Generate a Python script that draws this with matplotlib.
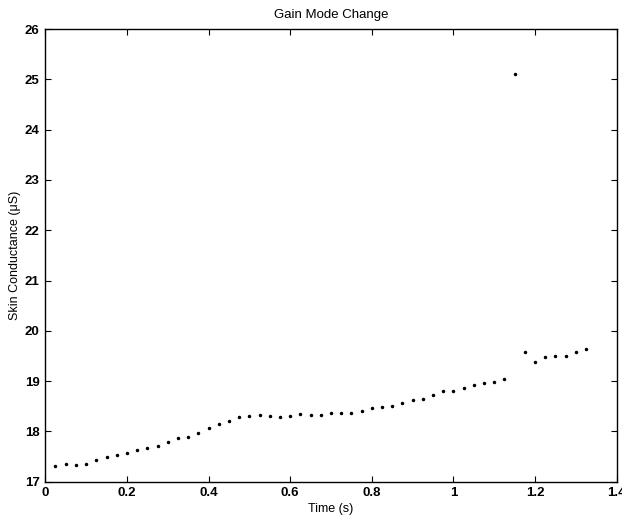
import numpy as np
import matplotlib
matplotlib.use('Agg')
import matplotlib.pyplot as plt
from matplotlib.ticker import FuncFormatter

# sample times (s) and skin conductance readings (uS)
timeArr = [0.025 * k for k in range(1, 54)]
scDatArr = [17.32, 17.35, 17.34, 17.36, 17.44, 17.49, 17.53, 17.58, 17.64, 17.68,
            17.72, 17.79, 17.87, 17.89, 17.97, 18.07, 18.14, 18.20, 18.28, 18.30,
            18.32, 18.30, 18.28, 18.30, 18.34, 18.32, 18.32, 18.36, 18.37, 18.37,
            18.41, 18.47, 18.48, 18.51, 18.56, 18.62, 18.64, 18.72, 18.80, 18.80,
            18.86, 18.93, 18.96, 18.98, 19.04, 25.10, 19.57, 19.38, 19.48, 19.49,
            19.49, 19.57, 19.64]

xTicks = [0, 0.2, 0.4, 0.6, 0.8, 1.0, 1.2, 1.4]
yTicks = [17, 18, 19, 20, 21, 22, 23, 24, 25, 26]

plt.rcParams['font.family'] = ['Liberation Sans', 'DejaVu Sans']

fig = plt.figure(figsize=(6.22, 5.18), dpi=100)
ax = fig.add_axes([0.0728, 0.070, 0.9187, 0.874])
ax.plot(timeArr, scDatArr, '.', color='k', markersize=3)

ax.set_xlim(0, 1.4)
ax.set_ylim(17, 26)
ax.set_xticks(xTicks)
ax.set_yticks(yTicks)
ax.xaxis.set_major_formatter(FuncFormatter(lambda v, p: '%g' % v))
ax.tick_params(direction='in', top=True, right=True, length=4, labelsize=9.5, width=0.8, pad=4)
for lab in ax.get_xticklabels() + ax.get_yticklabels():
    lab.set_fontweight('bold')
for sp in ax.spines.values():
    sp.set_linewidth(1.0)

ax.set_title('Gain Mode Change', fontsize=9.5, pad=8)
ax.set_xlabel('Time (s)', fontsize=9, labelpad=3)
ax.set_ylabel('Skin Conductance (\u03bcS)', fontsize=9, labelpad=3)

fig.savefig('out.png', dpi=100)
